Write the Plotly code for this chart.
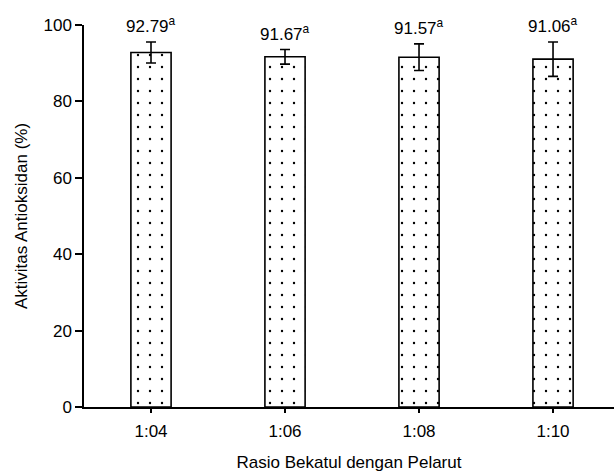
import plotly.graph_objects as go

categories = ["1:04", "1:06", "1:08", "1:10"]
values = [92.79, 91.67, 91.57, 91.06]
errors = [2.75, 1.9, 3.5, 4.5]
letters = ["a", "a", "a", "a"]
y_ticks = [0, 20, 40, 60, 80, 100]

FONT = "Liberation Sans, Arial, sans-serif"

fig = go.Figure()
fig.add_trace(go.Bar(
    x=categories, y=values, width=0.3,
    marker=dict(color="white", line=dict(color="black", width=1.6),
                pattern=dict(shape=".", fgcolor="black", bgcolor="white", size=12,
                             solidity=0.03, fgopacity=1)),
    error_y=dict(type="data", array=errors, visible=True, color="black", thickness=1.6, width=5),
))

for c, v, e, l in zip(categories, values, errors, letters):
    fig.add_annotation(x=c, y=v + e, text=f"{v:.2f}<sup>{l}</sup>", showarrow=False,
                       yanchor="bottom", yshift=4, font=dict(family=FONT, size=17, color="black"))

fig.update_layout(
    width=614, height=475, margin=dict(l=84, r=0, t=25, b=68),
    plot_bgcolor="white", paper_bgcolor="white", showlegend=False,
    font=dict(family=FONT, size=17, color="black"),
    xaxis=dict(range=[-0.5, 3.455], showline=True, linecolor="black", linewidth=1.5,
               ticks="outside", ticklen=4, tickcolor="black", tickwidth=1.5,
               ticklabelstandoff=4,
               title=dict(text="Rasio Bekatul dengan Pelarut", standoff=16, font=dict(size=17))),
    yaxis=dict(range=[0, 100], tickvals=y_ticks, showline=True, linecolor="black", linewidth=1.5,
               ticks="outside", ticklen=7, tickcolor="black", tickwidth=1.5, showgrid=False,
               zeroline=False,
               title=dict(text="Aktivitas Antioksidan (%)", standoff=12, font=dict(size=17))),
)
fig.write_html("out.html")
